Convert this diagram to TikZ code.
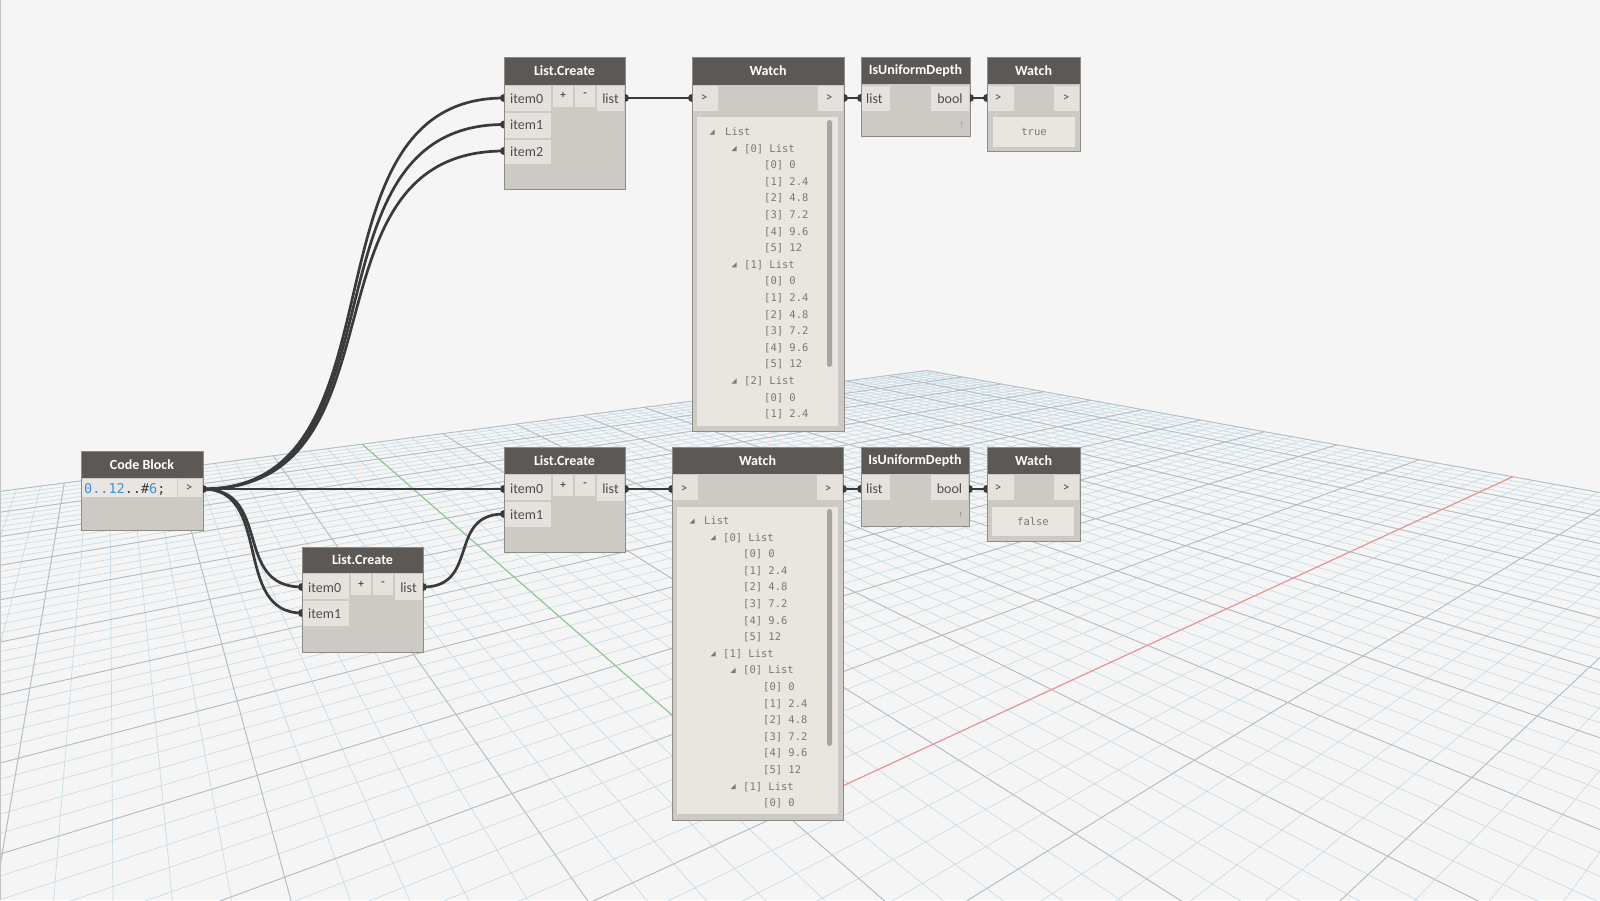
\documentclass[tikz,border=0pt]{standalone}
\usepackage{fontspec}
\setmainfont{Carlito}
\newfontfamily\dmono{DejaVu Sans Mono}
\definecolor{bgc}{HTML}{F5F5F5}
\definecolor{hdrc}{HTML}{5B5855}
\definecolor{bodyc}{HTML}{CDC9C4}
\definecolor{borderc}{HTML}{8F8B86}
\definecolor{cellc}{HTML}{E5E2DE}
\definecolor{listc}{HTML}{E9E6E2}
\definecolor{scrollc}{HTML}{A8A49F}
\definecolor{ptxtc}{HTML}{4F4D4B}
\definecolor{wtxtc}{HTML}{7A7774}
\definecolor{wirec}{HTML}{3A3A3A}
\definecolor{gminc}{HTML}{CADCE7}
\definecolor{gmajc}{HTML}{B3BBC1}
\definecolor{gaxis}{HTML}{8CCB8C}
\definecolor{raxis}{HTML}{F29090}
\definecolor{codeblue}{HTML}{3D8FE0}
\definecolor{codedark}{HTML}{3A3A3A}
\definecolor{edgegray}{HTML}{C4C4C4}
\tikzset{
 ttl/.style={font=\bfseries\fontsize{14}{16}\selectfont, text=white, inner sep=0pt},
 ptxt/.style={font=\fontsize{14}{16}\selectfont, text=ptxtc, inner sep=0pt, text height=9pt, text depth=0pt},
 pbtn/.style={font=\bfseries\fontsize{11}{12}\selectfont, text=ptxtc, inner sep=0pt},
 arr/.style={font=\fontsize{13}{14}\selectfont, text=ptxtc, inner sep=0pt},
 wtxt/.style={font=\dmono\fontsize{10.5}{12}\selectfont, text=wtxtc, inner sep=0pt, anchor=west, text height=7.5pt, text depth=0.5pt},
 ctxt/.style={font=\dmono\fontsize{13.5}{15}\selectfont, inner sep=0pt, anchor=west, text height=10pt, text depth=0.5pt},
 wire/.style={draw=wirec, line width=2.7pt},
 gmin/.style={draw=gminc, line width=0.7pt},
 gmaj/.style={draw=gmajc, line width=0.8pt},
}
\newcommand{\dynframe}[5]{%
  \fill[bodyc] (#1,#2) rectangle (#3,#4);
  \fill[hdrc] (#1,#2) rectangle (#3,#5);
  \draw[borderc, line width=0.8pt] (#1,#2) rectangle (#3,#4);}
\newcommand{\dyncell}[4]{\fill[cellc] (#1,#2) rectangle (#3,#4);}
\newcommand{\dynlist}[4]{\fill[listc] (#1,#2) rectangle (#3,#4);}
\newcommand{\dyntri}[2]{\fill[wtxtc] (#1+2.5,#2-2.5) -- (#1+2.5,#2+2.5) -- (#1-2.5,#2+2.5) -- cycle;}
\newcommand{\wline}[5]{\node[wtxt] (#1) at (#2,#3+16.6*#4) {#5};}
\newcommand{\wtri}[3]{\dyntri{#1}{#2+16.6*#3}}
\newcommand{\nubin}[1]{\fill[wirec] (#1) ++(0,4) arc[start angle=90, end angle=270, radius=4] -- cycle;}
\newcommand{\nubout}[1]{\fill[wirec] (#1) ++(0,-4) arc[start angle=-90, end angle=90, radius=4] -- cycle;}
\begin{document}
\begin{tikzpicture}[x=1pt,y=-1pt]
\useasboundingbox (0,0) rectangle (1600,900);
\clip (0,0) rectangle (1600,900);
\fill[bgc] (0,0) rectangle (1600,900);
% ---------- perspective grid ----------
\foreach \k in {-50,...,50}{
  \pgfmathsetmacro{\den}{2.66+0.0264*\k}
  \pgfmathsetmacro{\px}{(963.28+54.516*\k)/\den}
  \pgfmathsetmacro{\py}{(1181.52+5.8608*\k)/\den}
  \pgfmathsetmacro{\ex}{108+(\px-108)*(728/(\py-222))}
  \draw[gmin] (\px,\py) -- (\ex,950);
  \pgfmathsetmacro{\denb}{2.32+0.0332*\k}
  \pgfmathsetmacro{\qx}{(3509.8+3.5856*\k)/\denb}
  \pgfmathsetmacro{\qy}{(1106.04+7.3704*\k)/\denb}
  \pgfmathsetmacro{\f}{max(1,728/(\qy-222))}
  \pgfmathsetmacro{\fx}{2065+(\qx-2065)*\f}
  \pgfmathsetmacro{\fy}{222+(\qy-222)*\f}
  \draw[gmin] (\qx,\qy) -- (\fx,\fy);
}
\foreach \k in {-50,-45,...,50}{
  \pgfmathsetmacro{\den}{2.66+0.0264*\k}
  \pgfmathsetmacro{\px}{(963.28+54.516*\k)/\den}
  \pgfmathsetmacro{\py}{(1181.52+5.8608*\k)/\den}
  \pgfmathsetmacro{\ex}{108+(\px-108)*(728/(\py-222))}
  \draw[gmaj] (\px,\py) -- (\ex,950);
  \pgfmathsetmacro{\denb}{2.32+0.0332*\k}
  \pgfmathsetmacro{\qx}{(3509.8+3.5856*\k)/\denb}
  \pgfmathsetmacro{\qy}{(1106.04+7.3704*\k)/\denb}
  \pgfmathsetmacro{\f}{max(1,728/(\qy-222))}
  \pgfmathsetmacro{\fx}{2065+(\qx-2065)*\f}
  \pgfmathsetmacro{\fy}{222+(\qy-222)*\f}
  \draw[gmaj] (\qx,\qy) -- (\fx,\fy);
}
\coordinate (gorigin) at (784,813);
\coordinate (redend) at (1512.8,476.7);
\coordinate (greenend) at (362.1,444.2);
\draw[raxis, line width=1pt] (redend) -- (gorigin);
\draw[gaxis, line width=1pt] (greenend) -- (gorigin);
\draw[edgegray, line width=1pt] (0.5,0) -- (0.5,900);
% ---------- port coordinates ----------
\coordinate (cbout) at (203,489);
\coordinate (lc1in0) at (504,98);
\coordinate (lc1in1) at (504,124.5);
\coordinate (lc1in2) at (504,151);
\coordinate (lc1out) at (625,98);
\coordinate (w1in) at (692,98);
\coordinate (w1out) at (844,98);
\coordinate (iu1in) at (861,98);
\coordinate (iu1out) at (970,98);
\coordinate (w2in) at (987,98);
\coordinate (lc2in0) at (504,489);
\coordinate (lc2in1) at (504,514);
\coordinate (lc2out) at (625,489);
\coordinate (w3in) at (672,489);
\coordinate (w3out) at (843,489);
\coordinate (iu2in) at (861,489);
\coordinate (iu2out) at (969,489);
\coordinate (w4in) at (987,489);
\coordinate (lc3in0) at (302,587);
\coordinate (lc3in1) at (302,613);
\coordinate (lc3out) at (423,587);
% ---------- wires ----------
\draw[wire] (cbout) .. controls +(210,0) and +(-210,0) .. (lc1in0);
\draw[wire] (cbout) .. controls +(210,0) and +(-210,0) .. (lc1in1);
\draw[wire] (cbout) .. controls +(210,0) and +(-210,0) .. (lc1in2);
\draw[wire] (cbout) -- (lc2in0);
\draw[wire] (cbout) .. controls +(70,0) and +(-70,0) .. (lc3in0);
\draw[wire] (cbout) .. controls +(70,0) and +(-70,0) .. (lc3in1);
\draw[wire] (lc3out) .. controls +(57,0) and +(-57,0) .. (lc2in1);
\draw[wire] (lc1out) -- (w1in);
\draw[wire] (w1out) -- (iu1in);
\draw[wire] (iu1out) -- (w2in);
\draw[wire] (lc2out) -- (w3in);
\draw[wire] (w3out) -- (iu2in);
\draw[wire] (iu2out) -- (w4in);
% ---------- top List.Create ----------
\dynframe{504}{57}{625}{189}{85}
\dyncell{505}{86}{551}{111}
\dyncell{505}{113}{551}{138}
\dyncell{505}{140}{551}{164}
\dyncell{553}{86}{573}{107}
\dyncell{575}{86}{595}{107}
\dyncell{597}{86}{624}{111}
\node[ttl] (lc1t) at (564.5,71) {List.Create};
\node[ptxt, anchor=west] (lc1a) at (510,98.5) {item0};
\node[ptxt, anchor=west] (lc1b) at (510,125) {item1};
\node[ptxt, anchor=west] (lc1c) at (510,151.5) {item2};
\node[pbtn] (lc1p) at (563,95) {+};
\node[pbtn] (lc1m) at (585,95) {-};
\node[ptxt] (lc1l) at (610.5,98.5) {list};
% ---------- top Watch ----------
\dynframe{692}{57}{844}{431}{85}
\dyncell{693}{86}{718}{111}
\dyncell{818}{86}{843}{111}
\dynlist{697}{117}{838}{426}
\fill[scrollc, rounded corners=2.5pt] (827,120) rectangle (832,367);
\node[ttl] (w1t) at (768,71) {Watch};
\node[arr] (w1i) at (704,98) {>};
\node[arr] (w1o) at (829,98) {>};
\wtri{712}{132}{0}  \wline{w1l0}{725}{132}{0}{List}
\wtri{734}{132}{1}  \wline{w1l1}{744}{132}{1}{[0] List}
\wline{w1l2}{764}{132}{2}{[0] 0}
\wline{w1l3}{764}{132}{3}{[1] 2.4}
\wline{w1l4}{764}{132}{4}{[2] 4.8}
\wline{w1l5}{764}{132}{5}{[3] 7.2}
\wline{w1l6}{764}{132}{6}{[4] 9.6}
\wline{w1l7}{764}{132}{7}{[5] 12}
\wtri{734}{132}{8}  \wline{w1l8}{744}{132}{8}{[1] List}
\wline{w1l9}{764}{132}{9}{[0] 0}
\wline{w1l10}{764}{132}{10}{[1] 2.4}
\wline{w1l11}{764}{132}{11}{[2] 4.8}
\wline{w1l12}{764}{132}{12}{[3] 7.2}
\wline{w1l13}{764}{132}{13}{[4] 9.6}
\wline{w1l14}{764}{132}{14}{[5] 12}
\wtri{734}{132}{15} \wline{w1l15}{744}{132}{15}{[2] List}
\wline{w1l16}{764}{132}{16}{[0] 0}
\wline{w1l17}{764}{132}{17}{[1] 2.4}
% ---------- top IsUniformDepth ----------
\dynframe{861}{57}{970}{136}{84}
\dyncell{862}{86}{890}{111}
\dyncell{931}{86}{969}{111}
\node[ttl] (iu1t) at (915.5,70.5) {IsUniformDepth};
\node[ptxt, anchor=west] (iu1a) at (866,98.5) {list};
\node[ptxt] (iu1b) at (950,98.5) {bool};
\node[font=\fontsize{8}{8}\selectfont, text=wtxtc, inner sep=0pt] (iu1w) at (962,125) {!};
% ---------- top Watch (bool) ----------
\dynframe{987}{57}{1080}{151}{84}
\dyncell{988}{86}{1014}{111}
\dyncell{1054}{86}{1079}{111}
\dynlist{993}{117}{1075}{147}
\node[ttl] (w2t) at (1033.5,70.5) {Watch};
\node[arr] (w2i) at (998,98) {>};
\node[arr] (w2o) at (1066,98) {>};
\node[wtxt, anchor=center] (w2v) at (1034,132) {true};
% ---------- bottom List.Create ----------
\dynframe{504}{447}{625}{552}{474}
\dyncell{505}{475}{551}{500}
\dyncell{505}{502}{551}{527}
\dyncell{553}{475}{573}{496}
\dyncell{575}{475}{595}{496}
\dyncell{597}{475}{624}{501}
\node[ttl] (lc2t) at (564.5,460.5) {List.Create};
\node[ptxt, anchor=west] (lc2a) at (510,488.5) {item0};
\node[ptxt, anchor=west] (lc2b) at (510,514.5) {item1};
\node[pbtn] (lc2p) at (563,485) {+};
\node[pbtn] (lc2m) at (585,485) {-};
\node[ptxt] (lc2l) at (610.5,488.5) {list};
% ---------- bottom Watch ----------
\dynframe{672}{447}{843}{820}{474}
\dyncell{673}{475}{698}{500}
\dyncell{817}{475}{842}{500}
\dynlist{677}{507}{838}{814}
\fill[scrollc, rounded corners=2.5pt] (827,509) rectangle (832,746);
\node[ttl] (w3t) at (757.5,460.5) {Watch};
\node[arr] (w3i) at (684,489) {>};
\node[arr] (w3o) at (828,489) {>};
\wtri{692}{521}{0}  \wline{w3l0}{704}{521}{0}{List}
\wtri{713}{521}{1}  \wline{w3l1}{723}{521}{1}{[0] List}
\wline{w3l2}{743}{521}{2}{[0] 0}
\wline{w3l3}{743}{521}{3}{[1] 2.4}
\wline{w3l4}{743}{521}{4}{[2] 4.8}
\wline{w3l5}{743}{521}{5}{[3] 7.2}
\wline{w3l6}{743}{521}{6}{[4] 9.6}
\wline{w3l7}{743}{521}{7}{[5] 12}
\wtri{713}{521}{8}  \wline{w3l8}{723}{521}{8}{[1] List}
\wtri{733}{521}{9}  \wline{w3l9}{743}{521}{9}{[0] List}
\wline{w3l10}{763}{521}{10}{[0] 0}
\wline{w3l11}{763}{521}{11}{[1] 2.4}
\wline{w3l12}{763}{521}{12}{[2] 4.8}
\wline{w3l13}{763}{521}{13}{[3] 7.2}
\wline{w3l14}{763}{521}{14}{[4] 9.6}
\wline{w3l15}{763}{521}{15}{[5] 12}
\wtri{733}{521}{16} \wline{w3l16}{743}{521}{16}{[1] List}
\wline{w3l17}{763}{521}{17}{[0] 0}
% ---------- bottom IsUniformDepth ----------
\dynframe{861}{447}{969}{526}{474}
\dyncell{862}{475}{890}{500}
\dyncell{931}{475}{968}{500}
\node[ttl] (iu2t) at (915,460.5) {IsUniformDepth};
\node[ptxt, anchor=west] (iu2a) at (866,488.5) {list};
\node[ptxt] (iu2b) at (949.5,488.5) {bool};
\node[font=\fontsize{8}{8}\selectfont, text=wtxtc, inner sep=0pt] (iu2w) at (961,515) {!};
% ---------- bottom Watch (bool) ----------
\dynframe{987}{447}{1080}{541}{474}
\dyncell{988}{475}{1014}{500}
\dyncell{1054}{475}{1079}{500}
\dynlist{992}{507}{1074}{536}
\node[ttl] (w4t) at (1033.5,460.5) {Watch};
\node[arr] (w4i) at (998,488) {>};
\node[arr] (w4o) at (1066,488) {>};
\node[wtxt, anchor=center] (w4v) at (1033,521.5) {false};
% ---------- Code Block ----------
\dynframe{81}{451}{203}{530}{478}
\dynlist{82}{479}{177}{497}
\dyncell{178}{479}{202}{497}
\node[ttl] (cbt) at (142,464.5) {Code Block};
\node[ctxt] (cbc) at (84,488.5) {\textcolor{codeblue}{0..12}\textcolor{codedark}{..\#}\textcolor{codeblue}{6}\textcolor{codedark}{;}};
\node[arr] (cbo) at (189,488) {>};
% ---------- lower-left List.Create ----------
\dynframe{302}{547}{423}{652}{573}
\dyncell{303}{574}{349}{599}
\dyncell{303}{601}{349}{626}
\dyncell{351}{574}{371}{595}
\dyncell{373}{574}{393}{595}
\dyncell{395}{574}{422}{600}
\node[ttl] (lc3t) at (362.5,560) {List.Create};
\node[ptxt, anchor=west] (lc3a) at (308,587.5) {item0};
\node[ptxt, anchor=west] (lc3b) at (308,613.5) {item1};
\node[pbtn] (lc3p) at (361,584) {+};
\node[pbtn] (lc3m) at (383,584) {-};
\node[ptxt] (lc3l) at (408.5,587.5) {list};
% ---------- port nubs ----------
\nubout{cbout}
\nubin{lc1in0} \nubin{lc1in1} \nubin{lc1in2} \nubout{lc1out}
\nubin{w1in} \nubout{w1out} \nubin{iu1in} \nubout{iu1out} \nubin{w2in}
\nubin{lc2in0} \nubin{lc2in1} \nubout{lc2out}
\nubin{w3in} \nubout{w3out} \nubin{iu2in} \nubout{iu2out} \nubin{w4in}
\nubin{lc3in0} \nubin{lc3in1} \nubout{lc3out}
\end{tikzpicture}
\end{document}
